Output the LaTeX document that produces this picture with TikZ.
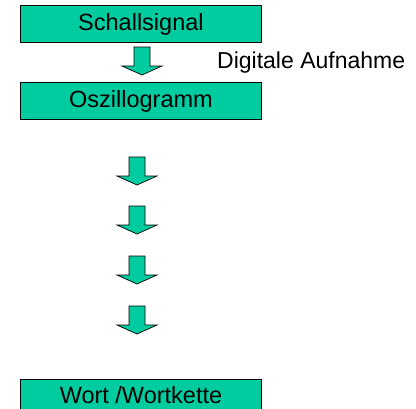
\documentclass[tikz,border=0pt]{standalone}
\usepackage{fontspec}
\setmainfont{Liberation Sans}
\definecolor{boxgreen}{RGB}{0,204,160}
\tikzset{
  stepbox/.style={draw=black, line width=0.9pt, fill=boxgreen, minimum width=241pt, minimum height=37pt, inner sep=0pt, font=\fontsize{23.5}{26}\selectfont, anchor=north west},
  plain/.style={font=\fontsize{23}{26}\selectfont, inner sep=0pt},
  bigarrow/.pic={
    \draw[line width=0.7pt, fill=boxgreen, line join=miter]
      (-8,0) -- (8,0) -- (8,19) -- (20,19) -- (0,28) -- (-20,19) -- (-8,19) -- cycle;
  }
}
\begin{document}
\begin{tikzpicture}[x=1pt, y=-1pt]
\useasboundingbox (0,0) rectangle (416,408);
\clip (0,0) rectangle (416,408);
\node[stepbox] (schall) at (20,5) {Schallsignal};
\node[stepbox] (oszi) at (20,82) {Oszillogramm};
\node[stepbox, minimum height=31pt] (wort) at (20,379) {Wort /Wortkette};
\node[plain, anchor=west] (dig) at (217,63) {Digitale Aufnahme};
\pic at (142,47) {bigarrow};
\pic at (137,157) {bigarrow};
\pic at (137,206) {bigarrow};
\pic at (137,256) {bigarrow};
\pic at (137,306) {bigarrow};
\end{tikzpicture}
\end{document}
